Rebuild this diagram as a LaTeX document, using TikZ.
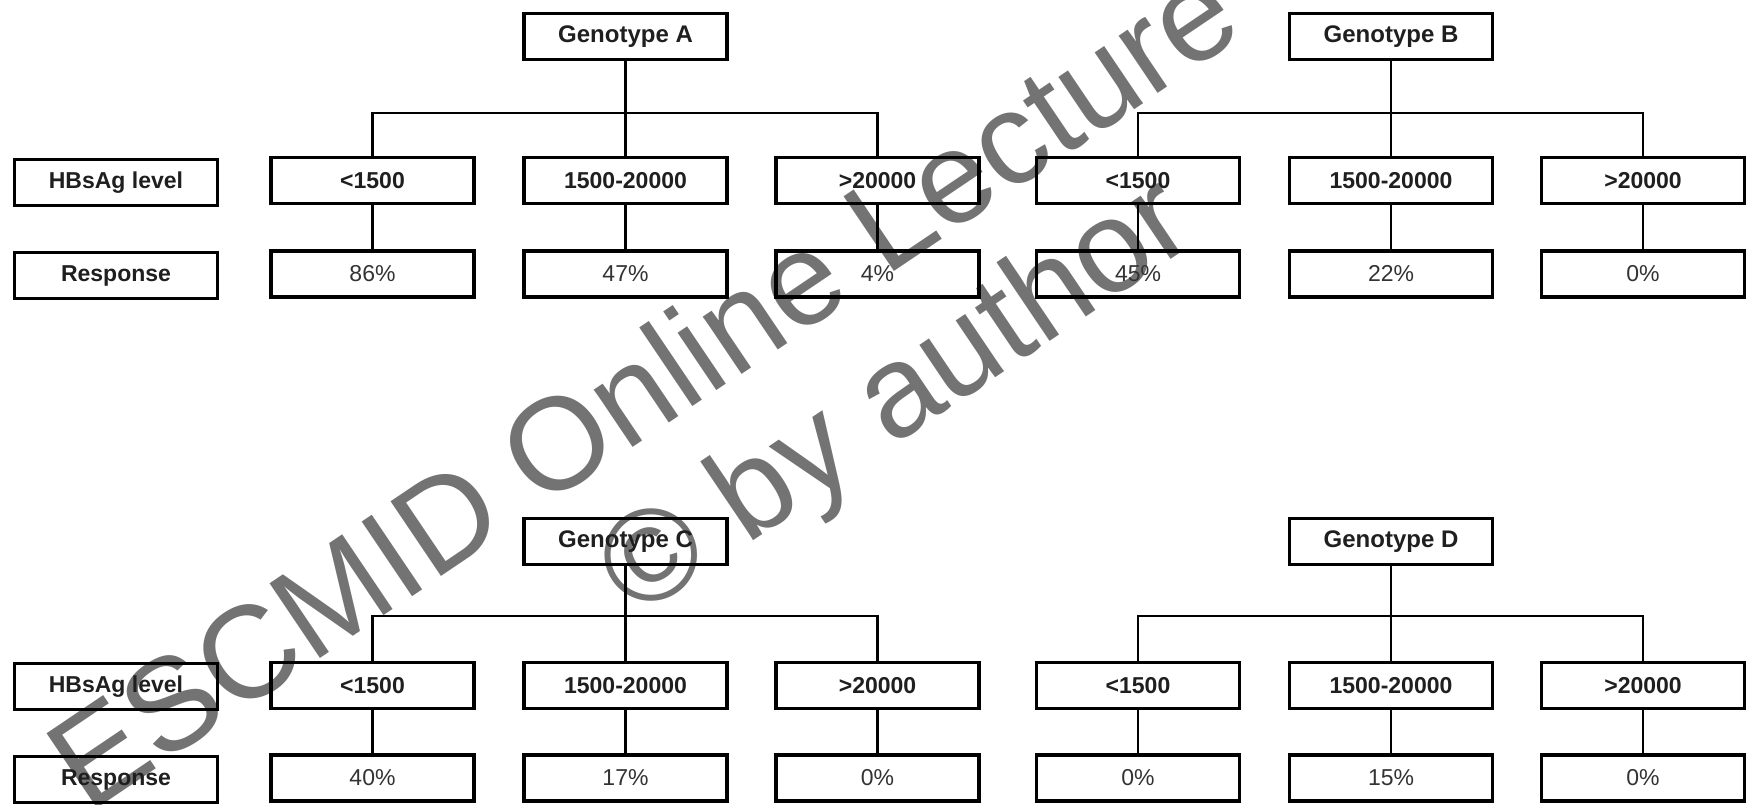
\documentclass[tikz,border=0pt]{standalone}
\usepackage{fontspec}
\setmainfont{Liberation Sans}
\newcommand\gtree[9]{%
  \node[gbox] (g#1) at (#2,#3) {Genotype #1};
  \coordinate (bar#1) at (#2,#4);
  \node[box] (#1a) at (#2-253,#5) {<1500};
  \node[box] (#1b) at (#2,#5) {1500-20000};
  \node[box] (#1c) at (#2+252,#5) {>20000};
  \node[pbox] (#1ra) at (#2-253,#6) {#7};
  \node[pbox] (#1rb) at (#2,#6) {#8};
  \node[pbox] (#1rc) at (#2+252,#6) {#9};
  \draw[link] (g#1.south) -- (bar#1);
  \draw[link] (#1a.north) |- (bar#1) -| (#1c.north);
  \draw[link] (bar#1) -- (#1b.north);
  \draw[link] (#1a.south) -- (#1ra.north);
  \draw[link] (#1b.south) -- (#1rb.north);
  \draw[link] (#1c.south) -- (#1rc.north);
}
\begin{document}
\begin{tikzpicture}[x=1pt,y=-1pt,
  box/.style={draw=black, line width=3.3pt, minimum width=203pt, minimum height=46pt,
    inner sep=0pt, font=\fontsize{23}{27}\selectfont\bfseries, text=black!88},
  gbox/.style={box, font=\fontsize{24}{28}\selectfont\bfseries},
  pbox/.style={box, font=\fontsize{23}{27}\selectfont, text=black!80},
  link/.style={line width=2.7pt, draw=black},
  wm/.style={text=black!55, font=\fontsize{131}{150}\selectfont, inner sep=0pt,
    anchor=base, rotate=34}]
\useasboundingbox[fill=white] (0,0) rectangle (1752,805);
% watermark (under the diagram)
\node[wm] (wm1) at (668,424) {ESCMID Online Lecture};
\node[wm] (wm2) at (918,430) {© by author};
% row labels
\node[box] (hb1) at (116,182.5) {HBsAg level};
\node[box] (rs1) at (116,275.5) {Response};
\node[box] (hb2) at (116,686.5) {HBsAg level};
\node[box] (rs2) at (116,779.5) {Response};
% trees
\gtree{A}{625.5}{36.5}{113}{180.5}{274}{86\%}{47\%}{4\%}
\gtree{B}{1391}{36.5}{113}{180.5}{274}{45\%}{22\%}{0\%}
\gtree{C}{625.5}{541.5}{616}{685.5}{778}{40\%}{17\%}{0\%}
\gtree{D}{1391}{541.5}{616}{685.5}{778}{0\%}{15\%}{0\%}
\end{tikzpicture}
\end{document}
